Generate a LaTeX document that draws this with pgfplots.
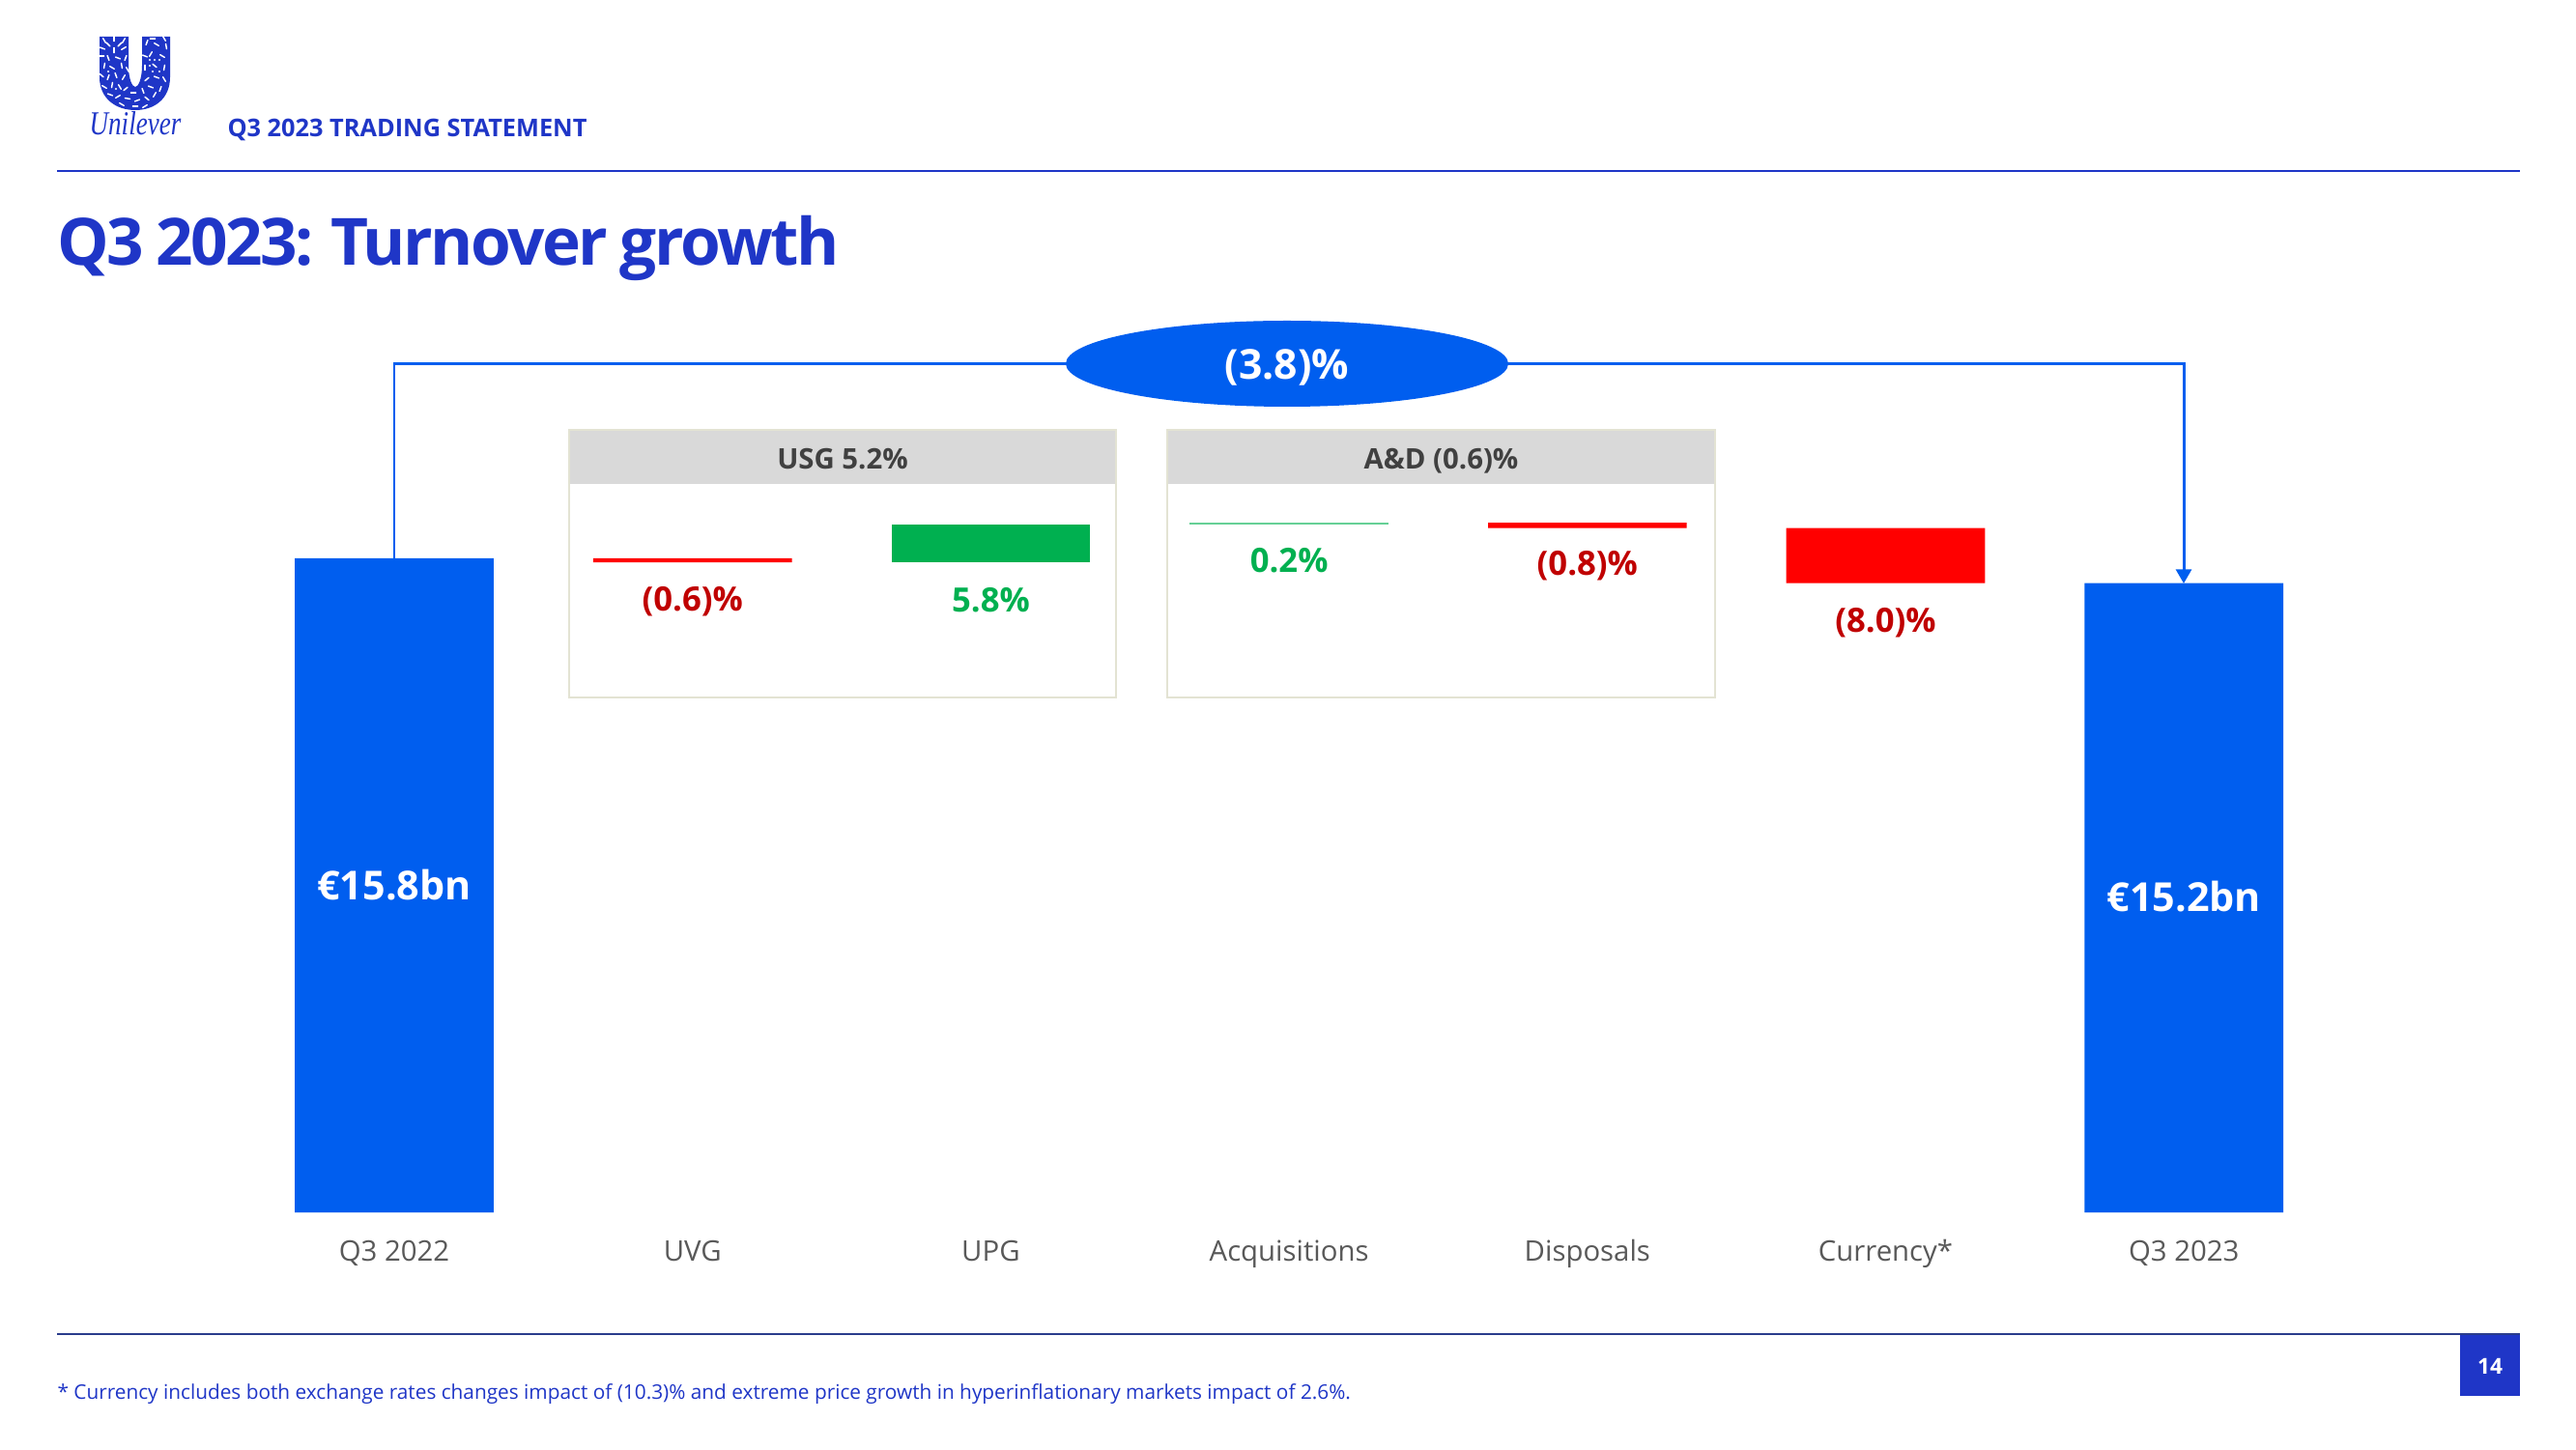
\documentclass[border=0pt]{standalone}
\usepackage{pgfplots}
\pgfplotsset{compat=1.18}
\usepackage{fontspec}
\setmainfont{Open Sans}
\newfontfamily\titlefont[LetterSpace=-3.6,WordSpace=0.8]{Open Sans}
\newfontfamily\logofont{Liberation Serif}
\usetikzlibrary{arrows.meta}
\definecolor{ublue}{HTML}{1F36C7}
\definecolor{barblue}{HTML}{005EEF}
\definecolor{navy}{HTML}{2A3C8C}
\definecolor{ured}{HTML}{FF0000}
\definecolor{dred}{HTML}{C00000}
\definecolor{ugreen}{HTML}{00B050}
\definecolor{hgrey}{HTML}{D9D9D9}
\definecolor{bgrey}{HTML}{E3E3D3}
\definecolor{lgrey}{HTML}{595959}
\definecolor{hdark}{HTML}{404040}
\newcommand{\fs}[1]{\fontsize{#1}{#1}\selectfont}
\begin{document}
\begin{tikzpicture}
\useasboundingbox (0,0) rectangle (999.75pt,562.5pt);
\fill[white] (0,0) rectangle (999.75pt,562.5pt);
\begin{scope}[x=0.375pt,y=-0.375pt,yshift=562.5pt]
% header: logo
\fill[ublue] (103,38) -- (133,38) -- (133,68) .. controls (133,82) and (137,90) .. (140,90) .. controls (143,90) and (147,82) .. (147,68) -- (147,38) -- (176,38) -- (176,80) .. controls (176,102) and (160,114) .. (140,114) .. controls (120,114) and (103,102) .. (103,80) -- cycle;
\begin{scope}[white,line width=0.55pt,line cap=round]
\foreach \a/\b/\r in {108/42/60,118/40/90,128/42/120,106/50/20,128/50/-30,118/52/90,112/46/45,124/46/-45,
 105/58/0,112/60/70,122/60/20,130/60/110,108/68/100,116/70/30,126/68/80,132/72/60,105/78/40,112/80/110,120/78/70,128/80/120,
 108/90/30,116/88/100,124/90/60,130/92/140,114/98/20,122/100/150,132/102/10,142/104/-20,152/102/40,160/98/120,
 138/96/0,148/94/70,156/90/20,166/92/110,170/82/60,162/80/20,152/82/140,170/70/100,160/68/40,150/70/90,
 168/58/30,156/56/120,150/58/20,172/48/80,162/46/30,152/44/110,158/40/0,170/40/60,126/108/30,150/110/-30,140/110/0}
  \draw (\a,\b) ++(\r:2.6) -- ++(\r+180:5.2);
\end{scope}
\foreach \a/\b in {155/62,160/62,165/62,155/68,165/74,158/74,112/74,120/92}
  \fill[white] (\a,\b) circle (1.1);
\node[ublue,font=\logofont\itshape\fs{13},anchor=base,inner sep=0] at (140,140) {\scalebox{0.78}[1]{Unilever}};
\node[ublue,font=\bfseries\fs{9.5},anchor=base west,inner sep=0] at (235,142) {Q3 2023 TRADING STATEMENT};
\draw[ublue,line width=1.1pt] (59,177) -- (2608,177);
\node[ublue,font=\titlefont\bfseries\fs{25.3},anchor=base west,inner sep=0] at (59,275) {Q3 2023: Turnover growth};
% boxes
\foreach \xa/\xb/\t in {589/1155/{USG 5.2\%},1208/1775/{A\&D (0.6)\%}}{
  \fill[white] (\xa,445) rectangle (\xb,722);
  \fill[hgrey] (\xa,445) rectangle (\xb,501.5);
  \draw[bgrey,line width=1.1pt] (\xa,445) rectangle (\xb,722);
  \node[hdark,font=\bfseries\fs{11},inner sep=0,anchor=base] at ({(\xa+\xb)/2},486) {\t};
}
% footer
\draw[navy,line width=0.55pt] (59,1381) -- (2608,1381);
\node[ublue,font=\fs{7.8},anchor=base west,inner sep=0] at (59,1448) {* Currency includes both exchange rates changes impact of (10.3)\% and extreme price growth in hyperinflationary markets impact of 2.6\%.};
\fill[ublue] (2546,1382) rectangle (2608,1445);
\node[white,font=\bfseries\fs{8.5}] at (2577,1414) {14};
\end{scope}
\begin{axis}[
  at={(0,0)},anchor=south west,
  scale only axis,width=999.75pt,height=562.5pt,
  xmin=-1.3217,xmax=7.3145,ymin=-5.7176,ymax=29.2882,
  clip=false,
  axis x line=middle,axis y line=none,
  axis line style={draw=none,-},
  x axis line style={draw=none,-},
  major tick length=0pt,
  xtick={0,1,2,3,4,5,6},
  xticklabels={Q3 2022,UVG,UPG,Acquisitions,Disposals,Currency*,Q3 2023},
  x tick label style={font=\fs{11},text=lgrey,anchor=base,yshift=-19pt,inner sep=0},
  ybar stacked,
  bar width=77.1pt,
]
\addplot[fill=white,draw=none,fill opacity=0] coordinates {(0,0)(1,15.7)(2,15.7)(3,16.62)(4,16.53)(5,15.2)(6,0)};
\addplot[fill=barblue,draw=none] coordinates {(0,15.8)(1,0)(2,0)(3,0)(4,0)(5,0)(6,15.2)};
\addplot[fill=ured,draw=none] coordinates {(0,0)(1,0.1)(2,0)(3,0)(4,0.13)(5,1.33)(6,0)};
\addplot[fill=ugreen,draw=none] coordinates {(0,0)(1,0)(2,0.92)(3,0)(4,0)(5,0)(6,0)};
\addplot[fill=ugreen!60,draw=none] coordinates {(0,0)(1,0)(2,0)(3,0.05)(4,0)(5,0)(6,0)};
\coordinate (la) at (axis cs:0,7.9);
\coordinate (lb) at (axis cs:6,7.63);
\node[dred,font=\bfseries\fs{13}] at (axis cs:1,14.75) {(0.6)\%};
\node[ugreen,font=\bfseries\fs{13}] at (axis cs:2,14.79) {5.8\%};
\node[ugreen,font=\bfseries\fs{13}] at (axis cs:3,15.74) {0.2\%};
\node[dred,font=\bfseries\fs{13}] at (axis cs:4,15.63) {(0.8)\%};
\node[dred,font=\bfseries\fs{13}] at (axis cs:5,14.25) {(8.0)\%};
\end{axis}
\node[white,font=\bfseries\fs{15.5}] at (la) {€15.8bn};
\node[white,font=\bfseries\fs{15.5}] at (lb) {€15.2bn};
\begin{scope}[x=0.375pt,y=-0.375pt,yshift=562.5pt]
\draw[barblue,line width=1.1pt] (408,578) -- (408,376.5) -- (1110,376.5);
\draw[barblue,line width=1.1pt,-{Triangle[length=5.5pt,width=6pt]}] (1555,376.5) -- (2260,376.5) -- (2260,604);
\fill[barblue] (1332,376.5) ellipse (229 and 44.5);
\node[white,font=\bfseries\fs{16}] at (1332,380) {(3.8)\%};
\end{scope}
\end{tikzpicture}
\end{document}
